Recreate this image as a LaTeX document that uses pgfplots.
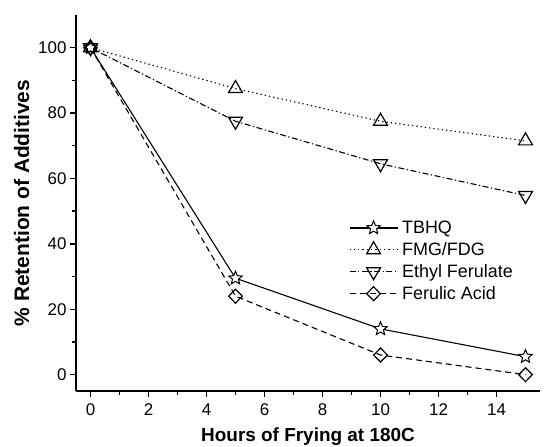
\documentclass[border=0pt]{standalone}
\usepackage{pgfplots}
\pgfplotsset{compat=1.18}
\usepackage{fontspec}
\setmainfont{Liberation Sans}

% open five-pointed star mark
\pgfdeclareplotmark{ostar}{%
  \pgfpathmoveto{\pgfpointpolar{90}{\pgfplotmarksize}}%
  \pgfpathlineto{\pgfpointpolar{126}{0.45\pgfplotmarksize}}%
  \pgfpathlineto{\pgfpointpolar{162}{\pgfplotmarksize}}%
  \pgfpathlineto{\pgfpointpolar{198}{0.45\pgfplotmarksize}}%
  \pgfpathlineto{\pgfpointpolar{234}{\pgfplotmarksize}}%
  \pgfpathlineto{\pgfpointpolar{270}{0.45\pgfplotmarksize}}%
  \pgfpathlineto{\pgfpointpolar{306}{\pgfplotmarksize}}%
  \pgfpathlineto{\pgfpointpolar{342}{0.45\pgfplotmarksize}}%
  \pgfpathlineto{\pgfpointpolar{18}{\pgfplotmarksize}}%
  \pgfpathlineto{\pgfpointpolar{54}{0.45\pgfplotmarksize}}%
  \pgfpathclose
  \pgfusepathqfillstroke
}

\begin{document}
\begin{tikzpicture}
\useasboundingbox (-76bp,-56bp) rectangle (470bp,391bp);
\begin{axis}[
  scale only axis,
  width=464bp, height=376bp,
  xmin=-0.5, xmax=15.5,
  ymin=-5, ymax=110,
  xtick={0,2,...,14},
  ytick={0,20,...,100},
  minor x tick num=1,
  minor y tick num=1,
  axis lines*=left,
  axis line style={-, line width=1.6bp},
  tick style={line width=1.4bp, black},
  major tick length=6bp,
  minor tick length=4bp,
  tick align=outside,
  /pgf/number format/assume math mode=true,
  tick label style={font=\fontsize{17}{20}\selectfont},
  xticklabel style={yshift=-3bp},
  xlabel={\bfseries Hours of Frying at 180C},
  ylabel={\bfseries \% Retention of Additives},
  xlabel style={font=\fontsize{19}{22}\selectfont, yshift=-5bp},
  ylabel style={font=\fontsize{21}{24}\selectfont, yshift=2bp},
  legend style={
    draw=none, fill=none, inner sep=0pt,
    at={(0.588,0.458)}, anchor=north west,
    font=\fontsize{18}{21}\selectfont,
    row sep=3.5bp,
    nodes={inner xsep=4bp},
  },
  legend cell align=left,
  legend image code/.code={
    \draw[mark repeat=2, mark phase=2]
      plot coordinates {(0bp,0bp) (24bp,0bp) (48bp,0bp)};
  },
  every axis plot/.append style={line width=1.1bp, black},
  mark size=7bp,
]

\addplot[mark=ostar, mark options={solid, fill=white, line width=1bp}]
  coordinates {(0,100) (5,29.5) (10,14) (15,5.5)};
\addlegendentry{TBHQ}

\addplot[dash pattern=on 1.3bp off 3bp, mark=triangle, mark size=8bp, mark options={solid, fill=white, line width=1.2bp}]
  coordinates {(0,100) (5,87.5) (10,77.5) (15,71.5)};
\addlegendentry{FMG/FDG}

\addplot[dash pattern=on 6bp off 2.5bp on 1.3bp off 2.5bp, mark=triangle, mark size=8bp, mark options={solid, fill=white, line width=1.2bp, rotate=180}]
  coordinates {(0,100) (5,77.5) (10,64.5) (15,54.8)};
\addlegendentry{Ethyl Ferulate}

\addplot[dash pattern=on 6bp off 4bp, mark=diamond, mark options={solid, fill=white, line width=1.2bp, xscale=1.3}]
  coordinates {(0,100) (5,24) (10,6) (15,0)};
\addlegendentry{Ferulic Acid}

\end{axis}
\end{tikzpicture}
\end{document}
